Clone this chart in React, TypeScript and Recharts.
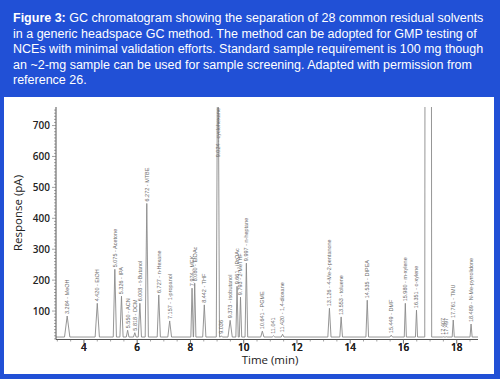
import React from 'react';
import { ComposedChart, Line, Scatter, XAxis, YAxis } from 'recharts';

// peak annotations as printed on the chromatogram
const peakLabels = [
  '3.284 - MeOH', '4.420 - EtOH', '5.075 - Acetone', '5.326 - IPA', '5.550 - ACN',
  '5.818 - DCM', '6.008 - t-Butanol', '6.272 - MTBE', '6.727 - n-Hexane', '7.157 - 1-propanol',
  '7.974 - MEK', '8.080 - EtOAc', '8.442 - THF', '9.024 - cyclohexane', '9.036',
  '9.373 - isobutanol', '9.661 - iPrOAc', '9.793 - 2-MeTHF', '9.997 - n-heptane', '10.641 - PGME',
  '11.041', '11.420 - 1,4-dioxane', '13.126 - 4-Me-2-pentanone', '13.553 - toluene', '14.535 - DIPEA',
  '15.449 - DMF', '15.980 - m-xylene', '16.351 - o-xylene', '17.407', '17.497',
  '17.761 - TMU', '18.489 - N-Me-pyrrolidone',
];
// apex position (min) as drawn against the time axis
const peakTimes = [
  3.37, 4.5, 5.16, 5.41, 5.64, 5.91, 6.1, 6.36, 6.81, 7.22,
  8.06, 8.16, 8.52, 9.03, 9.16, 9.49, 9.75, 9.88, 10.1, 10.7,
  11.12, 11.46, 13.22, 13.66, 14.64, 15.54, 16.07, 16.49, 17.5, 17.61,
  17.87, 18.54,
];
// apex response (pA); cyclohexane runs off the top of the scale
const peakHeights = [
  84, 125, 235, 148, 38, 30, 125, 448, 152, 68,
  174, 190, 120, 1200, 20, 70, 180, 145, 255, 35,
  20, 25, 109, 81, 135, 22, 125, 103, 17, 17,
  71, 58,
];
// base width of each peak (min)
const peakWidths = [
  0.2, 0.16, 0.12, 0.12, 0.1, 0.1, 0.12, 0.12, 0.12, 0.14,
  0.09, 0.09, 0.12, 0.12, 0.08, 0.16, 0.09, 0.09, 0.1, 0.12,
  0.1, 0.1, 0.12, 0.1, 0.1, 0.1, 0.08, 0.08, 0.06, 0.06,
  0.08, 0.08,
];

// diluent peak, off scale
const solventTimes = [16.8, 16.83, 17.03, 17.06];
const solventSignal = [16, 3000, 3000, 16];

const baselineLevel = 16;
const timeRange = [2.95, 18.8];
const responseRange = [8, 760];
const timeTicks = [4, 6, 8, 10, 12, 14, 16, 18];
const responseTicks = [100, 200, 300, 400, 500, 600, 700];

const BLUE = '#2150d6';
const PLOT_TOP = 10;
const LABEL_FONT = 5.5;

const trace: { time: number; signal: number }[] = [
  { time: timeRange[0], signal: baselineLevel },
  { time: timeRange[1], signal: baselineLevel },
];
peakTimes.forEach((t, i) => {
  const hw = peakWidths[i] / 2;
  trace.push(
    { time: t - hw, signal: baselineLevel },
    { time: t, signal: peakHeights[i] },
    { time: t + hw, signal: baselineLevel },
  );
});
solventTimes.forEach((t, i) => trace.push({ time: t, signal: solventSignal[i] }));
trace.sort((a, b) => a.time - b.time);

const peaks = peakTimes.map((t, i) => ({ time: t, height: peakHeights[i], label: peakLabels[i] }));

const minorY = Array.from({ length: 75 }, (_, i) => (i + 1) * 10);
const minorX: number[] = [];
for (let t = 3; t <= 18.5; t += 0.5) minorX.push(t);

const YTick = (props: any) => {
  const { x, y, payload } = props;
  const major = responseTicks.includes(payload.value);
  return (
    <g>
      <line x1={x} x2={x - (major ? 4 : 2)} y1={y} y2={y} stroke="#666" strokeWidth={0.6} />
      {major && (
        <text x={x - 6} y={y} dy={3.6} textAnchor="end" fontSize={10} fontWeight={600}
          fontFamily="Open Sans" fill="#222">{payload.value}</text>
      )}
    </g>
  );
};

const XTick = (props: any) => {
  const { x, y, payload } = props;
  const major = timeTicks.includes(payload.value);
  return (
    <g>
      <line x1={x} x2={x} y1={y} y2={y + (major ? 4 : 2)} stroke="#666" strokeWidth={0.6} />
      {major && (
        <text x={x} y={y + 11.5} textAnchor="middle" fontSize={10} fontWeight={600}
          fontFamily="Open Sans" fill="#222">{payload.value}</text>
      )}
    </g>
  );
};

const PeakLabel = (props: any) => {
  const { cx, cy, payload } = props;
  if (cx == null || cy == null) return <g />;
  const len = payload.label.length * LABEL_FONT * 0.52;
  let y = cy - 2;
  let anchor = 'start';
  if (y - len < PLOT_TOP) {
    y = PLOT_TOP + 1;
    anchor = 'end';
  }
  return (
    <text x={cx} y={y} dy={LABEL_FONT * 0.35} transform={`rotate(-90 ${cx} ${y})`}
      textAnchor={anchor} fontSize={LABEL_FONT} fontFamily="Liberation Sans" fill="#6a6a6a">
      {payload.label}
    </text>
  );
};

export default function App() {
  return (
    <div style={{ position: 'absolute', left: 0, top: 0, width: 500, height: 379, background: BLUE }}>
      <div style={{
        position: 'absolute', left: 13, top: 11, color: '#fff', fontFamily: 'Liberation Sans, Arial',
        fontSize: 12.5, lineHeight: '15.5px', whiteSpace: 'nowrap',
      }}>
        <b>Figure 3:</b> GC chromatogram showing the separation of 28 common residual solvents<br />
        in a generic headspace GC method. The method can be adopted for GMP testing of<br />
        NCEs with minimal validation efforts. Standard sample requirement is 100 mg though<br />
        an ~2-mg sample can be used for sample screening. Adapted with permission from<br />
        reference 26.
      </div>
      <div style={{ position: 'absolute', left: 4, top: 97, width: 490, height: 277, background: '#fff' }}>
        <ComposedChart width={490} height={277} margin={{ top: PLOT_TOP, right: 16, bottom: 0, left: 0 }}>
          <XAxis
            type="number"
            dataKey="time"
            domain={timeRange}
            allowDataOverflow
            ticks={minorX.concat(timeTicks).sort((a, b) => a - b)}
            interval={0}
            tickSize={0}
            tickMargin={0}
            tickLine={false}
            tick={<XTick />}
            height={34.5}
            stroke="#555"
            label={{
              content: () => (
                <text x={266} y={267} textAnchor="middle" fontSize={11.5} fontFamily="Open Sans" fill="#222">
                  Time (min)
                </text>
              ),
            }}
          />
          <YAxis
            type="number"
            domain={responseRange}
            allowDataOverflow
            ticks={minorY}
            interval={0}
            tickSize={0}
            tickMargin={0}
            tickLine={false}
            tick={<YTick />}
            width={52}
            stroke="#555"
            label={{
              content: () => (
                <text x={18} y={116} transform="rotate(-90 18 116)" textAnchor="middle" fontSize={11.5}
                  fontFamily="Open Sans" fill="#222">
                  Response (pA)
                </text>
              ),
            }}
          />
          <Line data={trace} dataKey="signal" type="linear" stroke="#8a8a8a" strokeWidth={0.9}
            dot={false} isAnimationActive={false} />
          <Scatter data={peaks} dataKey="height" shape={<PeakLabel />} isAnimationActive={false} />
        </ComposedChart>
      </div>
    </div>
  );
}
